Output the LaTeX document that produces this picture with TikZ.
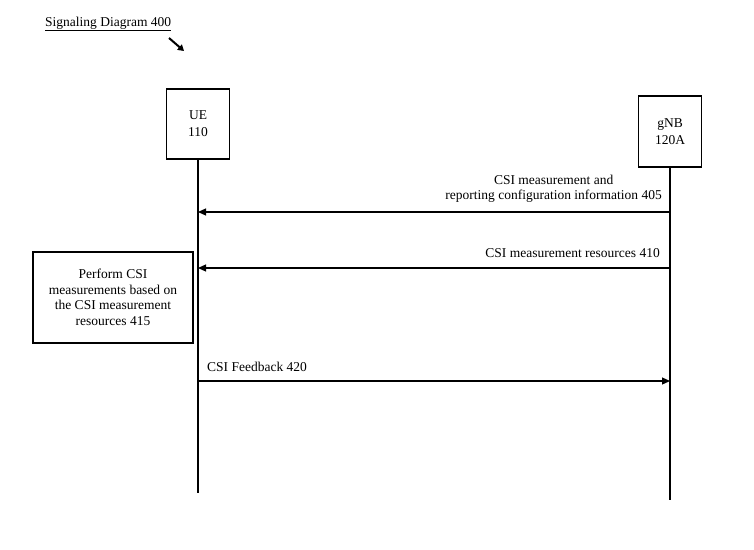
\documentclass[tikz,border=0pt]{standalone}
\usepackage{fontspec}
\setmainfont{Liberation Serif}
\usetikzlibrary{positioning,arrows.meta}

\begin{document}
\begin{tikzpicture}[x=1pt, y=-1pt,
  every node/.style={font=\fontsize{13.5}{15.5}\selectfont},
  box/.style={draw=black, line width=1.2pt, align=center, inner sep=2pt},
  ent/.style={box, minimum width=63pt, font=\fontsize{13.5}{17}\selectfont},
  life/.style={line width=1.2pt},
  msg/.style={line width=1.2pt, -{Triangle[length=8pt,width=7pt]}},
  lbl/.style={align=center, inner sep=1pt}]
\useasboundingbox (0,0) rectangle (754,549);
% title with its pointer
\node[anchor=west, inner sep=0pt] (title) at (45,24) {\underline{Signaling Diagram 400}};
\coordinate (ptrfrom) at (169,38);
\coordinate (ptrto) at (184,51);
\draw[line width=2pt, -{Triangle[length=6pt,width=7pt]}] (ptrfrom) -- (ptrto);
% entities and lifelines
\node[ent, minimum height=70pt] (ue) at (198,124) {UE\\110};
\node[ent, minimum height=71pt] (gnb) at (670,131.5) {gNB\\120A};
\coordinate (ueend) at (ue.south |- 0,493);
\coordinate (gnbend) at (gnb.south |- 0,500);
\draw[life] (ue) -- (ueend);
\draw[life] (gnb) -- (gnbend);
% messages
\coordinate (g405) at (gnb.south |- 0,212);
\coordinate (u405) at (ue.south |- 0,212);
\draw[msg] (g405) -- (u405);
\node[lbl, anchor=south east] (l405) at (663,204) {CSI measurement and\\reporting configuration information 405};
\coordinate (g410) at (gnb.south |- 0,268);
\coordinate (u410) at (ue.south |- 0,268);
\draw[msg] (g410) -- (u410);
\node[lbl, anchor=south east] (l410) at (661,259) {CSI measurement resources 410};
\node[box, minimum width=160pt, minimum height=91pt] (meas) at (113,297.5)
  {Perform CSI\\measurements based on\\the CSI measurement\\resources 415};
\coordinate (u420) at (ue.south |- 0,381);
\coordinate (g420) at (gnb.south |- 0,381);
\draw[msg] (u420) -- (g420);
\node[lbl, anchor=south west] (l420) at (206,373) {CSI Feedback 420};
\end{tikzpicture}
\end{document}
